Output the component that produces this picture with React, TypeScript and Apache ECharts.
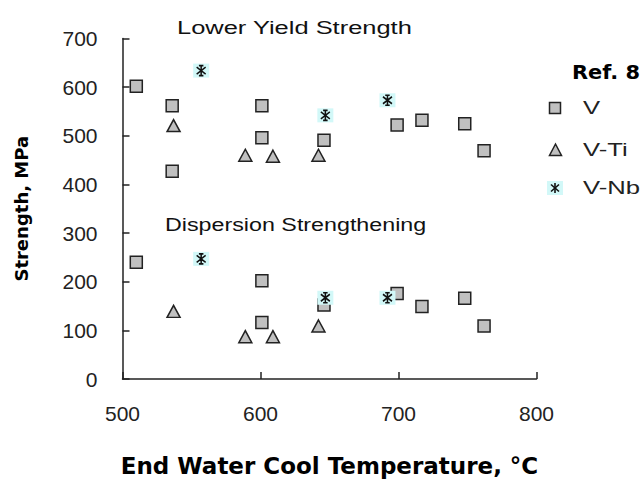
import React, { useEffect, useRef } from "react";
import * as echarts from "echarts";

// V steels
const vTempLower = [510, 536, 536, 601, 601, 646, 699, 717, 748, 762];
const vLower = [602, 562, 427, 562, 496, 491, 522, 532, 525, 469];
const vTempDisp = [510, 601, 601, 646, 699, 717, 748, 762];
const vDisp = [240, 202, 116, 152, 176, 149, 166, 109];
// V-Ti steels
const tiTemp = [537, 589, 609, 642];
const tiLower = [521, 460, 458, 460];
const tiDisp = [139, 87, 87, 109];
// V-Nb steels
const nbTemp = [557, 647, 692];
const nbLower = [634, 542, 573];
const nbDisp = [247, 167, 167];

const xTicks = [500, 600, 700, 800];
const yTicks = [0, 100, 200, 300, 400, 500, 600, 700];

const pairs = (xs: number[], ys: number[]) => xs.map((x, i) => [x, ys[i]]);

const STAR =
  "path://M0,0 L0,10 M-4,1.5 L4,8.5 M4,1.5 L-4,8.5 M-2,0 L2,0 M-2,10 L2,10";

export default function App() {
  const ref = useRef<HTMLDivElement>(null);
  useEffect(() => {
    if (!ref.current) return;
    const chart = echarts.init(ref.current, undefined, { renderer: "svg" });
    const vData = [...pairs(vTempLower, vLower), ...pairs(vTempDisp, vDisp)];
    const tiData = [...pairs(tiTemp, tiLower), ...pairs(tiTemp, tiDisp)];
    const nbData = [...pairs(nbTemp, nbLower), ...pairs(nbTemp, nbDisp)];
    const labelFont = "'Liberation Sans', Arial, sans-serif";
    const legendFont = "19px 'Liberation Sans', Arial, sans-serif";
    chart.setOption({
      animation: false,
      backgroundColor: "#ffffff",
      grid: { left: 122.5, right: 104.5, top: 38.5, bottom: 100, containLabel: false },
      xAxis: {
        type: "value",
        min: xTicks[0],
        max: xTicks[xTicks.length - 1],
        interval: 100,
        axisLine: { show: true, lineStyle: { color: "#222", width: 1.5 } },
        axisTick: { show: true, inside: true, length: 7, lineStyle: { color: "#222", width: 1.5 } },
        axisLabel: { color: "#222", fontSize: 21, fontFamily: labelFont, margin: 24 },
        splitLine: { show: false },
        name: "End Water Cool Temperature, °C",
        nameLocation: "middle",
        nameGap: 75,
        nameTextStyle: { color: "#000", fontSize: 23, fontWeight: "bold", fontFamily: "'DejaVu Sans', sans-serif" },
      },
      yAxis: {
        type: "value",
        min: yTicks[0],
        max: yTicks[yTicks.length - 1],
        interval: 100,
        axisLine: { show: true, lineStyle: { color: "#222", width: 1.5 } },
        axisTick: { show: true, inside: true, length: 7, lineStyle: { color: "#222", width: 1.5 } },
        axisLabel: { color: "#222", fontSize: 21, fontFamily: labelFont, margin: 25 },
        splitLine: { show: false },
        name: "Strength, MPa",
        nameLocation: "middle",
        nameGap: 92,
        nameTextStyle: { color: "#000", fontSize: 18, fontWeight: "bold", fontFamily: "'DejaVu Sans', sans-serif" },
      },
      series: [
        {
          name: "V",
          type: "scatter",
          data: vData,
          symbol: "rect",
          symbolSize: 12,
          itemStyle: { color: "#c0c0c0", borderColor: "#222", borderWidth: 1.5, opacity: 1 },
          z: 2,
        },
        {
          name: "V-Ti",
          type: "scatter",
          data: tiData,
          symbol: "triangle",
          symbolSize: [13, 12],
          itemStyle: { color: "#c0c0c0", borderColor: "#222", borderWidth: 1.5, opacity: 1 },
          z: 3,
        },
        {
          name: "V-Nb bg",
          type: "scatter",
          data: nbData,
          symbol: "rect",
          symbolSize: [16, 14],
          itemStyle: { color: "#d2f8f8", opacity: 1 },
          z: 4,
          silent: true,
        },
        {
          name: "V-Nb",
          type: "scatter",
          data: nbData,
          symbol: STAR,
          symbolSize: [9, 10],
          itemStyle: { color: "transparent", borderColor: "#111", borderWidth: 1.6, opacity: 1 },
          z: 5,
        },
      ],
      graphic: [
        {
          type: "text",
          x: 177,
          y: 28,
          scaleX: 1.34,
          style: { text: "Lower Yield Strength", fill: "#111", font: legendFont, verticalAlign: "middle" },
        },
        {
          type: "text",
          x: 165,
          y: 225,
          scaleX: 1.225,
          style: { text: "Dispersion Strengthening", fill: "#111", font: legendFont, verticalAlign: "middle" },
        },
        {
          type: "text",
          x: 572,
          y: 72,
          scaleX: 1.1,
          style: { text: "Ref. 8", fill: "#000", font: "bold 19px 'DejaVu Sans', sans-serif", verticalAlign: "middle" },
        },
        { type: "rect", shape: { x: 549.5, y: 102.5, width: 11, height: 11 }, style: { fill: "#c0c0c0", stroke: "#222", lineWidth: 1.5 } },
        { type: "polygon", shape: { points: [[555.5, 144], [549.5, 155.5], [561.5, 155.5]] }, style: { fill: "#c0c0c0", stroke: "#222", lineWidth: 1.5 } },
        { type: "rect", shape: { x: 547, y: 181, width: 16, height: 14 }, style: { fill: "#d2f8f8" } },
        { type: "polyline", shape: { points: [[555, 183], [555, 193]] }, style: { stroke: "#111", lineWidth: 1.6 } },
        { type: "polyline", shape: { points: [[551, 184.5], [559, 191.5]] }, style: { stroke: "#111", lineWidth: 1.6 } },
        { type: "polyline", shape: { points: [[559, 184.5], [551, 191.5]] }, style: { stroke: "#111", lineWidth: 1.6 } },
        { type: "text", x: 583, y: 108, scaleX: 1.35, style: { text: "V", fill: "#222", font: legendFont, verticalAlign: "middle" } },
        { type: "text", x: 583, y: 150, scaleX: 1.35, style: { text: "V-Ti", fill: "#222", font: legendFont, verticalAlign: "middle" } },
        { type: "text", x: 583, y: 188, scaleX: 1.35, style: { text: "V-Nb", fill: "#222", font: legendFont, verticalAlign: "middle" } },
      ],
    });
    return () => chart.dispose();
  }, []);
  return (
    <div
      ref={ref}
      style={{ position: "fixed", left: 0, top: 0, width: 641, height: 482, background: "#fff" }}
    />
  );
}
